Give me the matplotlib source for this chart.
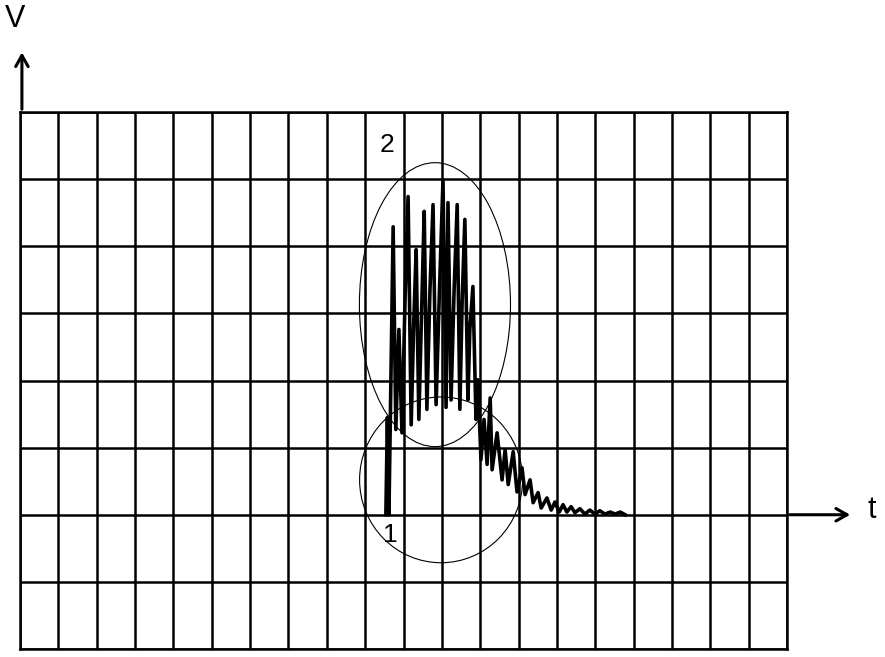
import matplotlib
matplotlib.use("Agg")
import matplotlib.pyplot as plt
from matplotlib.patches import Ellipse

plt.rcParams['font.family'] = ['Liberation Sans', 'DejaVu Sans']

# grid in divisions
x_divisions = list(range(0, 21))
y_divisions = list(range(-2, 7))

# waveform (time in divisions, voltage in divisions)
t_vals = [9.54, 9.58, 9.62, 9.73, 9.80, 9.88, 9.96, 10.04, 10.12, 10.20,
          10.27, 10.33, 10.40, 10.48, 10.54, 10.61, 10.69, 10.77, 10.85, 10.93,
          11.03, 11.11, 11.16, 11.24, 11.32, 11.40, 11.47, 11.53, 11.60, 11.68,
          11.73, 11.81, 11.89, 11.94, 12.02, 12.10, 12.18, 12.26, 12.31, 12.44,
          12.57, 12.65, 12.73, 12.86, 12.96, 13.09, 13.17, 13.30, 13.38, 13.51,
          13.59, 13.74, 13.85, 13.95, 14.06, 14.16, 14.26, 14.37, 14.47, 14.60,
          14.73, 14.86, 14.99, 15.12, 15.25, 15.39, 15.52, 15.65, 15.78]
v_vals = [0.00, 1.45, 0.00, 4.29, 1.27, 2.76, 1.22, 3.20, 4.74, 1.34,
          2.91, 3.95, 1.42, 3.20, 4.52, 1.57, 3.35, 4.62, 1.64, 3.20,
          4.99, 1.60, 4.65, 1.71, 3.35, 4.62, 1.57, 3.20, 4.40, 1.71,
          2.76, 3.40, 1.42, 2.01, 0.82, 1.42, 0.75, 1.74, 0.67, 1.22,
          0.52, 0.97, 0.45, 0.94, 0.34, 0.70, 0.30, 0.52, 0.18, 0.33,
          0.10, 0.25, 0.07, 0.19, 0.04, 0.15, 0.04, 0.12, 0.03, 0.09,
          0.01, 0.07, 0.01, 0.06, 0.01, 0.04, 0.01, 0.04, 0.00]

# ellipses around the two regions
ellipse_centers = [(10.98, 0.52), (10.82, 3.13)]
ellipse_sizes = [(4.25, 2.47), (3.94, 4.23)]
ellipse_labels = ["1", "2"]
label_positions = [(9.65, -0.30), (9.57, 5.51)]

W, H = 885, 657
fig = plt.figure(figsize=(W / 100, H / 100), dpi=100)
ax = fig.add_axes([20 / W, (657 - 649) / H, 767 / W, 537 / H])
ax.set_xlim(0, 20)
ax.set_ylim(-2, 6)
ax.set_xticks(x_divisions)
ax.set_yticks(y_divisions)
ax.tick_params(length=0, labelbottom=False, labelleft=False)
ax.grid(True, color='black', linewidth=1.8)
for s in ax.spines.values():
    s.set_linewidth(1.8)
    s.set_color('black')

ax.plot(t_vals, v_vals, color='black', linewidth=2.6, solid_joinstyle='round', zorder=3)

for (cx, cy), (w, h) in zip(ellipse_centers, ellipse_sizes):
    ax.add_patch(Ellipse((cx, cy), w, h, fill=False, edgecolor='black',
                         linewidth=0.8, zorder=4))
for lab, (lx, ly) in zip(ellipse_labels, label_positions):
    ax.text(lx, ly, lab, fontsize=19, ha='center', va='center', zorder=5)

# axis arrows
arrow_style = '->,head_length=0.8,head_width=0.45'
ax.annotate('', xy=(0.05, 6.93), xytext=(0.05, 6.0),
            arrowprops=dict(arrowstyle=arrow_style, color='black', lw=2.2),
            annotation_clip=False)
ax.annotate('', xy=(21.72, 0), xytext=(20, 0),
            arrowprops=dict(arrowstyle=arrow_style, color='black', lw=2.2),
            annotation_clip=False)
ax.text(-0.13, 7.38, "V", fontsize=22, ha='center', va='center', clip_on=False)
ax.text(22.22, 0.07, "t", fontsize=22, ha='center', va='center', clip_on=False)

fig.savefig("out.png", dpi=100)
